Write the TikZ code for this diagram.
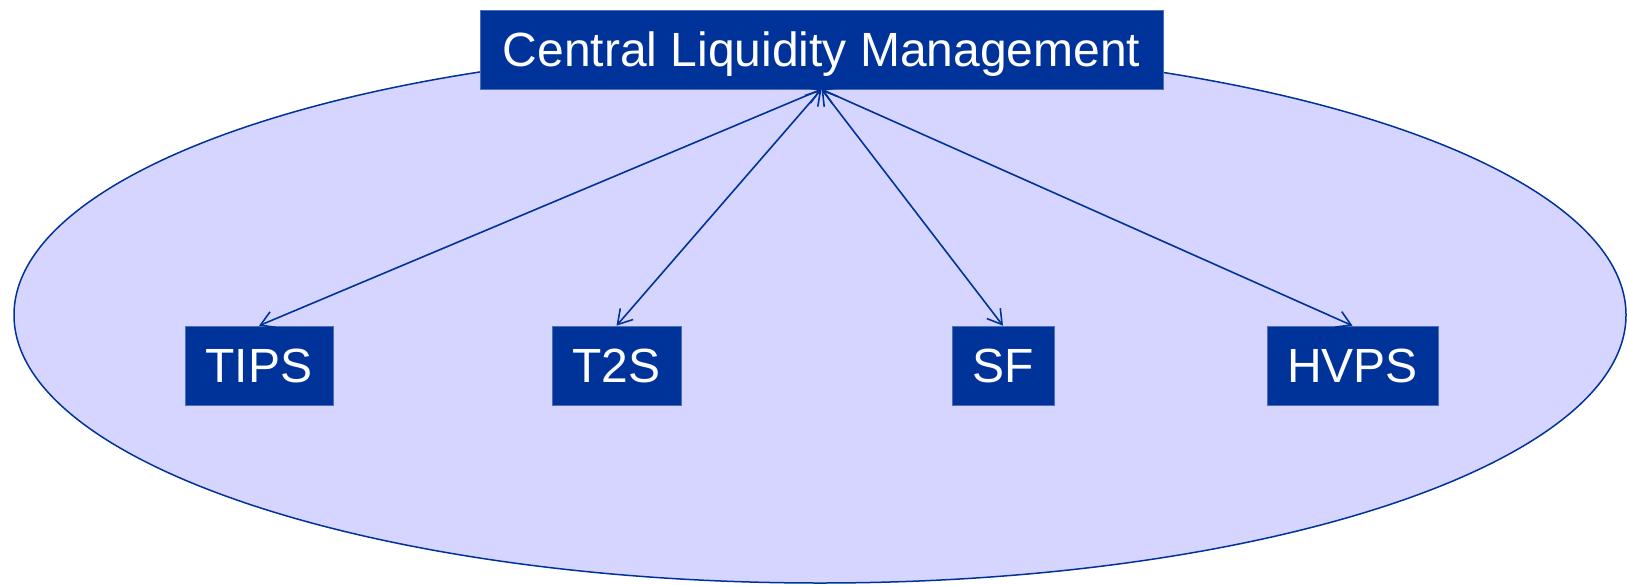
\documentclass[tikz,border=0pt]{standalone}
\usepackage{fontspec}
\setmainfont{Liberation Sans}
\usetikzlibrary{arrows.meta}
\definecolor{boxblue}{HTML}{003399}
\definecolor{lav}{HTML}{D5D5FF}
\tikzset{
  sysbox/.style={fill=boxblue, draw=boxblue!70!white, line width=0.6pt, text=white, inner sep=0pt,
    font=\fontsize{48}{56}\selectfont, text height=34pt, text depth=0pt, anchor=center},
  link/.style={draw=boxblue, line width=1.6pt, {Straight Barb[length=14pt,width=17pt]}-{Straight Barb[length=14pt,width=17pt]}},
}
\begin{document}
\begin{tikzpicture}[x=1pt,y=-1pt]
\useasboundingbox (0,0) rectangle (1627,584);
\draw[fill=lav, draw=boxblue, line width=1.5pt] (820,315) ellipse [x radius=806, y radius=268];
\node[sysbox, minimum width=683pt, minimum height=79pt] (clm) at (821.5,49.5) {Central Liquidity Management\hspace{6pt}};
\node[sysbox, minimum width=148pt, minimum height=79pt] (tips) at (259,365.5) {TIPS};
\node[sysbox, minimum width=129pt, minimum height=79pt] (t2s) at (616.5,365.5) {T2S};
\node[sysbox, minimum width=102pt, minimum height=79pt] (sf) at (1003,365.5) {SF};
\node[sysbox, minimum width=171pt, minimum height=79pt] (hvps) at (1352.5,365.5) {HVPS};
\draw[link] (clm.south) -- (tips.north);
\draw[link] (clm.south) -- (t2s.north);
\draw[link] (clm.south) -- (sf.north);
\draw[link] (clm.south) -- (hvps.north);
\end{tikzpicture}
\end{document}
